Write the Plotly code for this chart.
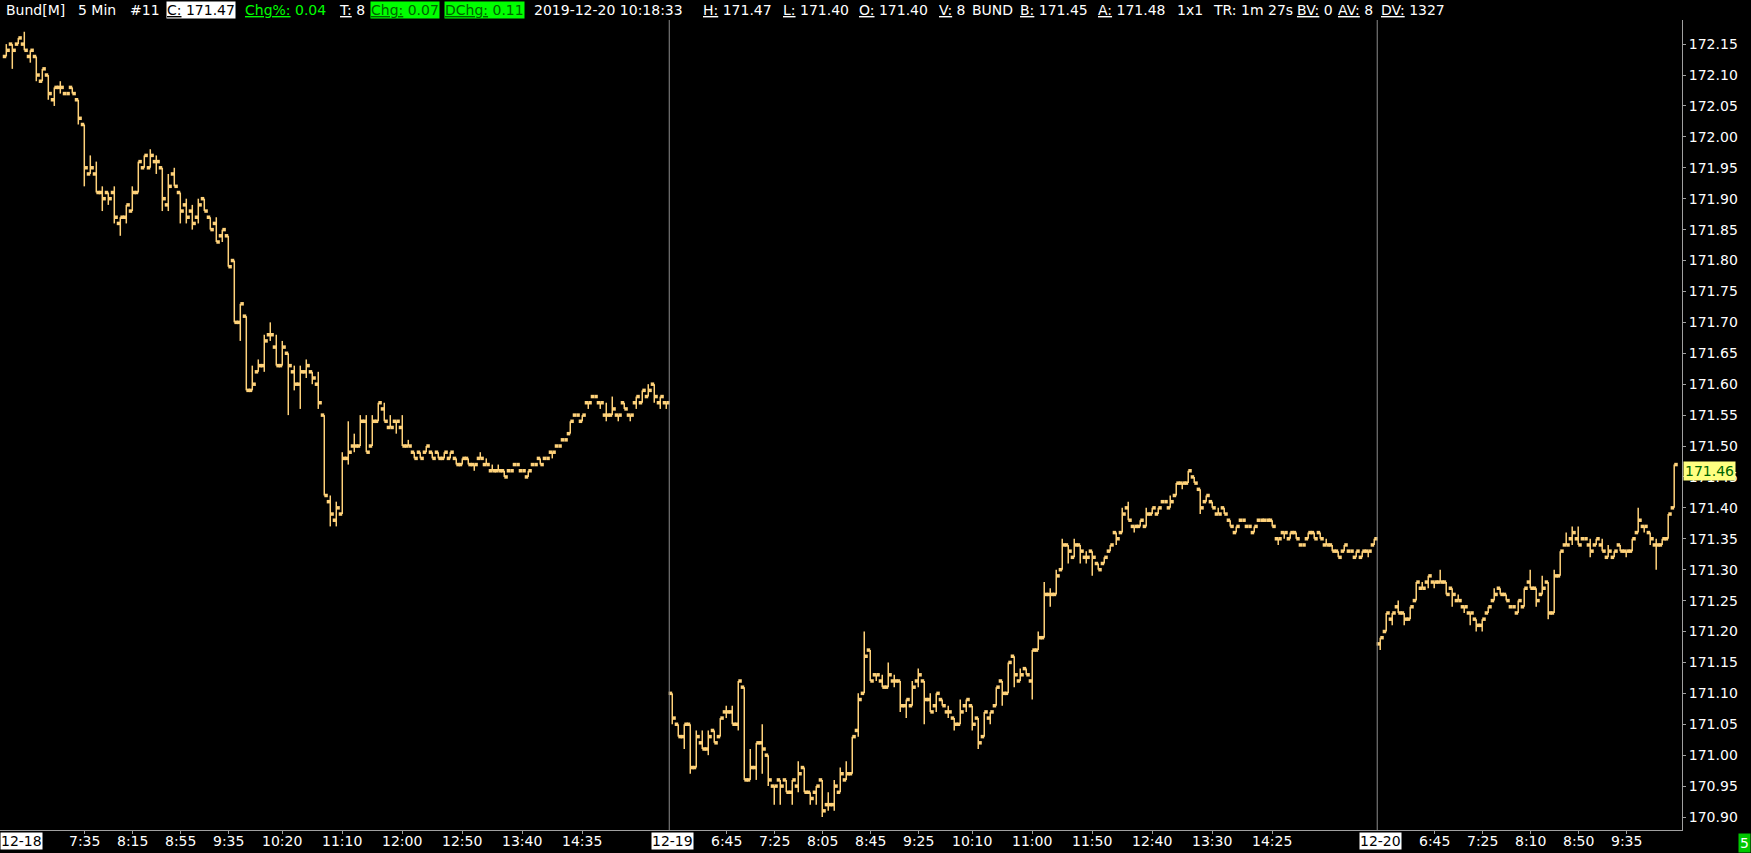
import plotly.graph_objects as go

# ---- data: 5 min bars, three sessions ----
s1_open = [172.13, 172.15, 172.15, 172.15, 172.13, 172.13, 172.09, 172.10, 172.06, 172.08,
           172.07, 172.08, 172.06, 172.02, 171.94, 171.94, 171.91, 171.91, 171.91, 171.86,
           171.87, 171.88, 171.91, 171.95, 171.95, 171.96, 171.95, 171.89, 171.94, 171.91,
           171.89, 171.88, 171.87, 171.90, 171.87, 171.86, 171.84, 171.84, 171.80, 171.70,
           171.71, 171.59, 171.62, 171.63, 171.68, 171.66, 171.63, 171.65, 171.62, 171.60,
           171.62, 171.62, 171.60, 171.55, 171.41, 171.38, 171.39, 171.48, 171.50, 171.50,
           171.54, 171.50, 171.54, 171.56, 171.53, 171.54, 171.53, 171.50, 171.49, 171.49,
           171.49, 171.49, 171.49, 171.48, 171.48, 171.48, 171.47, 171.48, 171.47, 171.48,
           171.47, 171.46, 171.46, 171.46, 171.46, 171.47, 171.46, 171.45, 171.47, 171.48,
           171.48, 171.49, 171.50, 171.51, 171.52, 171.55, 171.54, 171.57, 171.58, 171.57,
           171.55, 171.55, 171.55, 171.57, 171.55, 171.57, 171.57, 171.58, 171.60, 171.57,
           171.57]
s1_high = [172.15, 172.15, 172.16, 172.17, 172.14, 172.13, 172.11, 172.10, 172.08, 172.09,
           172.07, 172.08, 172.06, 172.02, 171.97, 171.96, 171.92, 171.91, 171.92, 171.87,
           171.89, 171.92, 171.96, 171.97, 171.98, 171.97, 171.95, 171.94, 171.95, 171.91,
           171.90, 171.89, 171.90, 171.90, 171.87, 171.87, 171.85, 171.84, 171.80, 171.73,
           171.71, 171.63, 171.64, 171.68, 171.70, 171.68, 171.67, 171.65, 171.63, 171.63,
           171.64, 171.62, 171.62, 171.55, 171.42, 171.41, 171.49, 171.54, 171.52, 171.55,
           171.55, 171.55, 171.57, 171.57, 171.55, 171.54, 171.55, 171.51, 171.49, 171.49,
           171.50, 171.49, 171.49, 171.49, 171.49, 171.48, 171.48, 171.48, 171.47, 171.49,
           171.48, 171.47, 171.47, 171.46, 171.46, 171.47, 171.46, 171.46, 171.47, 171.48,
           171.48, 171.49, 171.50, 171.51, 171.54, 171.55, 171.55, 171.57, 171.58, 171.57,
           171.57, 171.58, 171.55, 171.57, 171.55, 171.58, 171.59, 171.60, 171.60, 171.58,
           171.57]
s1_low = [172.13, 172.11, 172.15, 172.14, 172.12, 172.09, 172.09, 172.06, 172.05, 172.07,
          172.07, 172.07, 172.02, 171.92, 171.94, 171.91, 171.88, 171.89, 171.86, 171.84,
          171.86, 171.88, 171.91, 171.95, 171.95, 171.94, 171.88, 171.88, 171.92, 171.86,
          171.86, 171.85, 171.86, 171.88, 171.85, 171.83, 171.83, 171.79, 171.70, 171.67,
          171.59, 171.59, 171.62, 171.62, 171.67, 171.63, 171.63, 171.55, 171.59, 171.56,
          171.61, 171.60, 171.56, 171.42, 171.37, 171.37, 171.39, 171.47, 171.49, 171.50,
          171.49, 171.50, 171.54, 171.54, 171.53, 171.52, 171.50, 171.50, 171.48, 171.48,
          171.49, 171.48, 171.48, 171.48, 171.48, 171.47, 171.47, 171.47, 171.46, 171.48,
          171.47, 171.46, 171.46, 171.45, 171.46, 171.47, 171.46, 171.45, 171.47, 171.47,
          171.48, 171.48, 171.50, 171.51, 171.52, 171.55, 171.54, 171.56, 171.58, 171.56,
          171.54, 171.55, 171.54, 171.56, 171.54, 171.56, 171.57, 171.58, 171.57, 171.56,
          171.56]
s1_close = [172.14, 172.14, 172.16, 172.14, 172.14, 172.10, 172.11, 172.07, 172.08, 172.08,
            172.07, 172.07, 172.03, 171.95, 171.95, 171.91, 171.90, 171.90, 171.87, 171.87,
            171.89, 171.91, 171.96, 171.97, 171.97, 171.96, 171.90, 171.92, 171.92, 171.88,
            171.87, 171.86, 171.89, 171.88, 171.85, 171.83, 171.85, 171.79, 171.70, 171.73,
            171.59, 171.60, 171.63, 171.67, 171.68, 171.63, 171.66, 171.63, 171.60, 171.62,
            171.63, 171.61, 171.57, 171.42, 171.39, 171.40, 171.48, 171.49, 171.50, 171.54,
            171.49, 171.54, 171.57, 171.54, 171.53, 171.54, 171.50, 171.50, 171.48, 171.48,
            171.50, 171.48, 171.48, 171.49, 171.49, 171.47, 171.48, 171.47, 171.47, 171.48,
            171.47, 171.46, 171.46, 171.45, 171.46, 171.47, 171.46, 171.46, 171.47, 171.47,
            171.48, 171.49, 171.50, 171.51, 171.54, 171.55, 171.55, 171.57, 171.58, 171.57,
            171.55, 171.56, 171.55, 171.56, 171.55, 171.58, 171.59, 171.59, 171.58, 171.58,
            171.57]

s2_open = [171.10, 171.05, 171.03, 171.05, 170.98, 171.02, 171.01, 171.04, 171.03, 171.07,
           171.07, 171.05, 171.11, 170.96, 170.98, 171.02, 171.00, 170.95, 170.96, 170.96,
           170.94, 170.95, 170.98, 170.94, 170.94, 170.96, 170.92, 170.92, 170.94, 170.96,
           170.97, 171.04, 171.10, 171.17, 171.13, 171.12, 171.11, 171.12, 171.12, 171.08,
           171.08, 171.12, 171.12, 171.09, 171.08, 171.09, 171.07, 171.06, 171.05, 171.08,
           171.08, 171.06, 171.03, 171.06, 171.08, 171.12, 171.10, 171.16, 171.12, 171.14,
           171.12, 171.17, 171.19, 171.26, 171.26, 171.30, 171.34, 171.32, 171.34, 171.32,
           171.33, 171.31, 171.31, 171.33, 171.36, 171.36, 171.40, 171.37, 171.37, 171.37,
           171.39, 171.39, 171.41, 171.40, 171.42, 171.44, 171.44, 171.45, 171.43, 171.41,
           171.41, 171.39, 171.40, 171.38, 171.36, 171.38, 171.37, 171.36, 171.38, 171.38,
           171.38, 171.35, 171.36, 171.35, 171.36, 171.34, 171.35, 171.36, 171.36, 171.34,
           171.34, 171.33, 171.33, 171.33, 171.32, 171.32, 171.33, 171.34]
s2_high = [171.10, 171.05, 171.05, 171.05, 171.04, 171.04, 171.04, 171.04, 171.06, 171.08,
           171.08, 171.12, 171.11, 171.01, 171.02, 171.05, 171.00, 170.95, 170.96, 170.96,
           170.96, 170.99, 170.98, 170.94, 170.95, 170.96, 170.94, 170.96, 170.98, 170.99,
           171.03, 171.10, 171.20, 171.17, 171.13, 171.13, 171.15, 171.13, 171.12, 171.09,
           171.12, 171.14, 171.12, 171.10, 171.10, 171.09, 171.08, 171.06, 171.09, 171.09,
           171.08, 171.06, 171.07, 171.07, 171.11, 171.12, 171.15, 171.16, 171.14, 171.14,
           171.17, 171.20, 171.28, 171.27, 171.30, 171.35, 171.34, 171.35, 171.34, 171.33,
           171.33, 171.31, 171.32, 171.34, 171.36, 171.40, 171.41, 171.37, 171.38, 171.40,
           171.40, 171.40, 171.41, 171.42, 171.44, 171.44, 171.46, 171.45, 171.43, 171.42,
           171.41, 171.40, 171.40, 171.38, 171.37, 171.38, 171.37, 171.37, 171.38, 171.38,
           171.38, 171.35, 171.36, 171.36, 171.36, 171.34, 171.36, 171.36, 171.36, 171.35,
           171.34, 171.33, 171.34, 171.33, 171.33, 171.33, 171.33, 171.35]
s2_low = [171.05, 171.03, 171.01, 170.97, 170.98, 171.01, 171.00, 171.02, 171.03, 171.06,
          171.05, 171.04, 170.96, 170.96, 170.96, 170.97, 170.95, 170.92, 170.92, 170.94,
          170.92, 170.94, 170.94, 170.92, 170.92, 170.90, 170.91, 170.91, 170.94, 170.96,
          170.97, 171.03, 171.10, 171.12, 171.12, 171.11, 171.11, 171.11, 171.07, 171.06,
          171.08, 171.11, 171.05, 171.07, 171.07, 171.08, 171.06, 171.04, 171.05, 171.07,
          171.04, 171.01, 171.03, 171.05, 171.08, 171.08, 171.10, 171.11, 171.12, 171.13,
          171.09, 171.17, 171.19, 171.24, 171.26, 171.30, 171.31, 171.32, 171.31, 171.31,
          171.29, 171.30, 171.31, 171.33, 171.34, 171.36, 171.38, 171.36, 171.37, 171.37,
          171.39, 171.39, 171.41, 171.40, 171.42, 171.43, 171.44, 171.44, 171.39, 171.41,
          171.40, 171.39, 171.39, 171.37, 171.36, 171.38, 171.37, 171.36, 171.38, 171.38,
          171.37, 171.34, 171.35, 171.35, 171.35, 171.34, 171.35, 171.35, 171.35, 171.34,
          171.33, 171.32, 171.33, 171.33, 171.32, 171.32, 171.32, 171.34]
s2_close = [171.06, 171.03, 171.05, 170.98, 171.03, 171.01, 171.03, 171.02, 171.06, 171.07,
            171.05, 171.12, 170.96, 170.98, 171.02, 171.01, 170.96, 170.95, 170.95, 170.94,
            170.96, 170.97, 170.94, 170.93, 170.95, 170.91, 170.92, 170.95, 170.97, 170.97,
            171.03, 171.09, 171.16, 171.12, 171.13, 171.11, 171.13, 171.12, 171.08, 171.09,
            171.11, 171.13, 171.09, 171.07, 171.10, 171.08, 171.07, 171.05, 171.07, 171.09,
            171.05, 171.02, 171.07, 171.07, 171.11, 171.10, 171.15, 171.13, 171.13, 171.13,
            171.17, 171.19, 171.26, 171.26, 171.29, 171.34, 171.33, 171.34, 171.33, 171.32,
            171.32, 171.30, 171.32, 171.34, 171.35, 171.39, 171.38, 171.37, 171.38, 171.39,
            171.40, 171.40, 171.41, 171.41, 171.44, 171.44, 171.46, 171.44, 171.40, 171.42,
            171.40, 171.39, 171.39, 171.37, 171.37, 171.38, 171.37, 171.37, 171.38, 171.38,
            171.37, 171.35, 171.36, 171.36, 171.35, 171.34, 171.36, 171.35, 171.35, 171.34,
            171.33, 171.32, 171.34, 171.33, 171.33, 171.33, 171.33, 171.35]

s3_open = [171.18, 171.20, 171.22, 171.24, 171.23, 171.22, 171.25, 171.27, 171.28, 171.28,
           171.28, 171.28, 171.27, 171.25, 171.24, 171.23, 171.22, 171.21, 171.23, 171.25,
           171.27, 171.26, 171.24, 171.23, 171.24, 171.28, 171.27, 171.26, 171.28, 171.23,
           171.29, 171.34, 171.35, 171.35, 171.35, 171.34, 171.34, 171.34, 171.32, 171.32,
           171.34, 171.33, 171.33, 171.36, 171.37, 171.36, 171.34, 171.34, 171.35, 171.40]
s3_high = [171.19, 171.23, 171.23, 171.25, 171.23, 171.24, 171.28, 171.28, 171.29, 171.28,
           171.30, 171.28, 171.27, 171.26, 171.24, 171.23, 171.22, 171.22, 171.24, 171.27,
           171.27, 171.26, 171.24, 171.25, 171.27, 171.30, 171.27, 171.29, 171.28, 171.30,
           171.33, 171.36, 171.37, 171.37, 171.35, 171.35, 171.35, 171.35, 171.34, 171.33,
           171.34, 171.33, 171.35, 171.40, 171.37, 171.36, 171.35, 171.35, 171.39, 171.47]
s3_low = [171.17, 171.20, 171.21, 171.23, 171.21, 171.22, 171.25, 171.27, 171.27, 171.27,
          171.28, 171.26, 171.24, 171.25, 171.23, 171.21, 171.20, 171.20, 171.23, 171.25,
          171.26, 171.25, 171.24, 171.23, 171.24, 171.27, 171.24, 171.26, 171.22, 171.23,
          171.29, 171.34, 171.34, 171.34, 171.35, 171.32, 171.34, 171.33, 171.32, 171.32,
          171.33, 171.32, 171.33, 171.36, 171.36, 171.34, 171.30, 171.34, 171.35, 171.40]
s3_close = [171.19, 171.23, 171.23, 171.23, 171.22, 171.24, 171.28, 171.27, 171.29, 171.28,
            171.28, 171.26, 171.26, 171.25, 171.24, 171.23, 171.21, 171.22, 171.24, 171.26,
            171.26, 171.25, 171.24, 171.25, 171.27, 171.27, 171.25, 171.27, 171.23, 171.29,
            171.33, 171.34, 171.36, 171.34, 171.35, 171.33, 171.35, 171.33, 171.33, 171.33,
            171.33, 171.33, 171.35, 171.38, 171.37, 171.35, 171.34, 171.35, 171.39, 171.47]

session_dates = ["12-18", "12-19", "12-20"]

# time labels on the bar axis (bar index, label)
time_tick_idx = [13, 21, 29, 37, 46, 56, 66, 76, 86, 96,
                 120, 128, 136, 144, 152, 161, 171, 181, 191, 201, 211,
                 238, 246, 254, 262, 270]
time_tick_text = ["7:35", "8:15", "8:55", "9:35", "10:20", "11:10", "12:00", "12:50", "13:40", "14:35",
                  "6:45", "7:25", "8:05", "8:45", "9:25", "10:10", "11:00", "11:50", "12:40", "13:30", "14:25",
                  "6:45", "7:25", "8:10", "8:50", "9:35"]

price_ticks = [170.90 + 0.05 * k for k in range(26)]
last_price = 171.46

header_items = [
    ("Bund[M]", 5, "#ffffff", None),
    ("5 Min", 77, "#ffffff", None),
    ("#11", 129, "#ffffff", None),
    ("<u>C:</u> 171.47", 166, "#000000", "#ffffff"),
    ("<u>Chg%:</u> 0.04", 244, "#00ff00", None),
    ("<u>T:</u> 8", 338, "#ffffff", None),
    ("<u>Chg:</u> 0.07", 370, "#006400", "#00ff00"),
    ("<u>DChg:</u> 0.11", 444, "#006400", "#00ff00"),
    ("2019-12-20 10:18:33", 533, "#ffffff", None),
    ("<u>H:</u> 171.47", 702, "#ffffff", None),
    ("<u>L:</u> 171.40", 782, "#ffffff", None),
    ("<u>O:</u> 171.40", 858, "#ffffff", None),
    ("<u>V:</u> 8", 938, "#ffffff", None),
    ("BUND", 971, "#ffffff", None),
    ("<u>B:</u> 171.45", 1019, "#ffffff", None),
    ("<u>A:</u> 171.48", 1097, "#ffffff", None),
    ("1x1", 1176, "#ffffff", None),
    ("TR: 1m 27s", 1212, "#ffffff", None),
    ("<u>BV:</u> 0", 1296, "#ffffff", None),
    ("<u>AV:</u> 8", 1337, "#ffffff", None),
    ("<u>DV:</u> 1327", 1380, "#ffffff", None),
]

opens = s1_open + s2_open + s3_open
highs = s1_high + s2_high + s3_high
lows = s1_low + s2_low + s3_low
closes = s1_close + s2_close + s3_close
x = list(range(len(opens)))
n1, n2 = len(s1_open), len(s2_open)
bar_color = "#ffd27a"
FONT = "DejaVu Sans"
PLOT_W = 1682

fig = go.Figure()
# high-low lines
fig.add_trace(go.Ohlc(x=x, open=opens, high=highs, low=lows, close=closes, tickwidth=0,
                      increasing=dict(line=dict(color=bar_color, width=1.5)),
                      decreasing=dict(line=dict(color=bar_color, width=1.5)),
                      hoverinfo="skip", showlegend=False))
# open / close ticks
fig.add_scatter(x=[i - 0.3 for i in x], y=opens, mode="markers", hoverinfo="skip", showlegend=False,
                marker=dict(symbol="square", size=3.5, color=bar_color, line=dict(width=0)))
fig.add_scatter(x=[i + 0.3 for i in x], y=closes, mode="markers", hoverinfo="skip", showlegend=False,
                marker=dict(symbol="square", size=3.5, color=bar_color, line=dict(width=0)))

# session separators
for b in [n1 - 0.5, n1 + n2 - 0.5]:
    fig.add_shape(type="line", xref="x", yref="paper", x0=b, x1=b, y0=0, y1=1,
                  line=dict(color="#8c8c8c", width=1))

annotations = []
# time labels under the axis
for pos, txt in zip(time_tick_idx, time_tick_text):
    annotations.append(dict(text=txt, xref="x", yref="paper", x=pos, y=0, xanchor="center",
                            yanchor="top", yshift=-2, showarrow=False, borderpad=0,
                            font=dict(family=FONT, size=14, color="#ffffff")))
# date labels
annotations.append(dict(text=session_dates[0], xref="paper", yref="paper", x=0, y=0, xanchor="left",
                        yanchor="top", yshift=-2, showarrow=False, bgcolor="#ffffff", borderpad=0,
                        font=dict(family=FONT, size=14, color="#000000")))
for d, pos in zip(session_dates[1:], [n1, n1 + n2]):
    annotations.append(dict(text=d, xref="x", yref="paper", x=pos, y=0, xanchor="center",
                            yanchor="top", yshift=-2, showarrow=False, bgcolor="#ffffff", borderpad=0,
                            font=dict(family=FONT, size=14, color="#000000")))
# header line
for txt, px, fg, bg in header_items:
    annotations.append(dict(text=txt, xref="paper", yref="paper", x=px / PLOT_W, y=1, xanchor="left",
                            yanchor="bottom", yshift=1, showarrow=False, borderpad=0,
                            bgcolor=bg if bg else "rgba(0,0,0,0)",
                            font=dict(family=FONT, size=14, color=fg)))
# last price marker
annotations.append(dict(text="%.2f" % last_price, xref="paper", yref="y", x=1, y=last_price,
                        xanchor="left", yanchor="middle", xshift=1, showarrow=False, bgcolor="#ffff80",
                        borderpad=1, font=dict(family=FONT, size=14, color="#006400")))
# bar period box
annotations.append(dict(text="5", xref="paper", yref="paper", x=1, y=0,
                        xanchor="right", yanchor="bottom", xshift=69, yshift=-23, showarrow=False,
                        bgcolor="#00c800", borderpad=1,
                        font=dict(family=FONT, size=14, color="#ffffff")))

fig.update_layout(
    width=1751, height=853,
    margin=dict(l=0, r=69, t=20, b=23),
    paper_bgcolor="#000000", plot_bgcolor="#000000",
    showlegend=False,
    annotations=annotations,
    xaxis=dict(range=[-1.05, 279.3], rangeslider=dict(visible=False), showgrid=False, zeroline=False,
               showline=True, linecolor="#a0a0a0", linewidth=1,
               tickmode="array", tickvals=time_tick_idx, showticklabels=False,
               ticks="outside", ticklen=3, tickcolor="#a0a0a0"),
    yaxis=dict(range=[170.879, 172.189], side="right", showgrid=False, zeroline=False,
               showline=True, linecolor="#a0a0a0", linewidth=1,
               tickmode="array", tickvals=price_ticks, ticktext=["%.2f" % v for v in price_ticks],
               ticks="outside", ticklen=3, tickcolor="#a0a0a0",
               tickfont=dict(family=FONT, size=14, color="#ffffff")),
)

# page body has a default 8px margin; drop it so the figure fills the window
fig.write_html("out.html", config={"displayModeBar": False},
               post_script="document.body.style.margin='0';document.body.style.background='#000';")
